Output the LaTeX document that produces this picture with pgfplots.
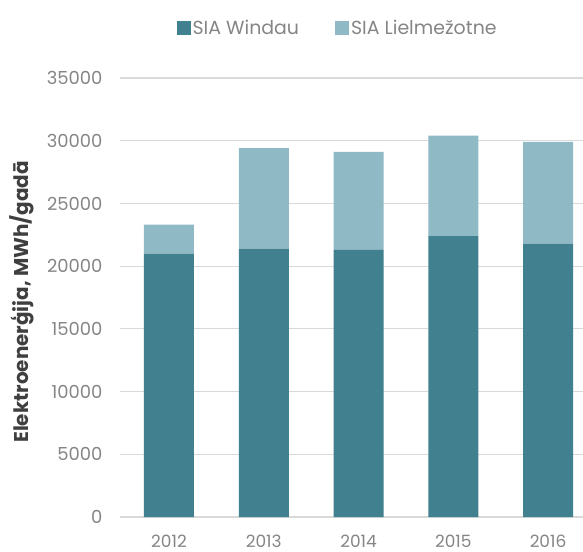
\documentclass[border=0pt]{standalone}
\usepackage{fontspec}
\setmainfont{Poppins}
\usepackage{pgfplots}
\pgfplotsset{compat=1.18}
\definecolor{darkbar}{HTML}{41808F}
\definecolor{lightbar}{HTML}{8FB9C5}
\definecolor{tickgray}{HTML}{858585}
\definecolor{gridgray}{HTML}{D9D9D9}
\definecolor{labelgray}{HTML}{3F3F3F}
\begin{document}
\begin{tikzpicture}
\useasboundingbox (-120bp,-35bp) rectangle (463bp,517bp);
\begin{axis}[
  at={(0,0)}, anchor=south west,
  scale only axis, width=463bp, height=439bp,
  ybar stacked, bar width=50bp,
  xmin=-0.517, xmax=4.369,
  ymin=0, ymax=35000,
  ytick={0,5000,...,35000},
  xtick={0,1,2,3,4},
  xticklabels={2012,2013,2014,2015,2016},
  axis line style={draw=none},
  major tick length=0pt,
  ymajorgrids, grid style={gridgray, line width=1.2pt},
  /pgf/number format/assume math mode=true,
  scaled y ticks=false,
  yticklabel={\pgfmathprintnumber[fixed,1000 sep={}]{\tick}},
  tick label style={font=\fontsize{18}{20}\selectfont, text=tickgray},
  yticklabel style={xshift=-14bp},
  xticklabel style={anchor=base, yshift=-30bp, font=\fontsize{17}{19}\selectfont},
  ylabel={Elektroenerģija, MWh/gadā},
  ylabel style={font=\bfseries\fontsize{20}{22}\selectfont, text=labelgray,
    at={(axis description cs:-0.212,0.49)}, anchor=center},
  legend columns=2,
  legend style={draw=none, fill=none, at={(0.47,1.0)}, yshift=38bp, anchor=south,
    font=\fontsize{19}{21}\selectfont, text=tickgray,
    /tikz/every even column/.append style={column sep=34bp}},
  legend image code/.code={\fill[#1] (0bp,-7bp) rectangle (14bp,7bp);},
]
\addplot[fill=darkbar, draw=none] coordinates {(0,21000) (1,21400) (2,21300) (3,22400) (4,21800)};
\addplot[fill=lightbar, draw=none] coordinates {(0,2300) (1,8000) (2,7800) (3,8000) (4,8100)};
\legend{SIA Windau, SIA Lielmežotne}
\end{axis}
\end{tikzpicture}
\end{document}
